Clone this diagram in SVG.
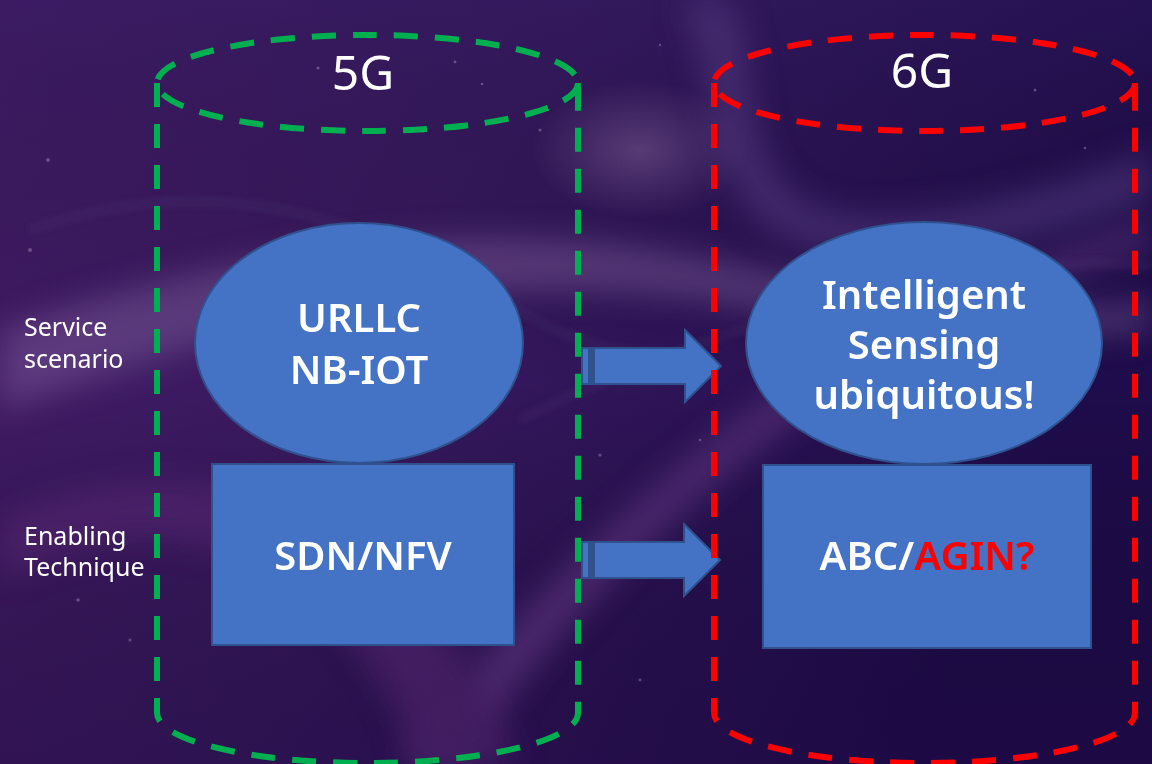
<svg xmlns="http://www.w3.org/2000/svg" width="1152" height="764" viewBox="0 0 1152 764">
  <defs>
    <linearGradient id="bg" x1="0" y1="0" x2="1" y2="0.3">
      <stop offset="0" stop-color="#451c68"/>
      <stop offset="0.45" stop-color="#38195f"/>
      <stop offset="1" stop-color="#1f0c4c"/>
    </linearGradient>
    <linearGradient id="shade" x1="0" y1="0" x2="0" y2="1">
      <stop offset="0" stop-color="#2a1a5a" stop-opacity="0.35"/>
      <stop offset="0.5" stop-color="#000000" stop-opacity="0"/>
      <stop offset="1" stop-color="#1a0638" stop-opacity="0.35"/>
    </linearGradient>
    <radialGradient id="glow" cx="0.5" cy="0.5" r="0.5">
      <stop offset="0" stop-color="#8a6a9e" stop-opacity="0.45"/>
      <stop offset="1" stop-color="#8a6a9e" stop-opacity="0"/>
    </radialGradient>
    <filter id="soft" x="-20%" y="-50%" width="140%" height="200%">
      <feGaussianBlur stdDeviation="16"/>
    </filter>
    <filter id="softer" x="-20%" y="-50%" width="140%" height="200%">
      <feGaussianBlur stdDeviation="4"/>
    </filter>
    <style>
      .lbl { font-family: "Noto Sans", "Open Sans", "Liberation Sans", sans-serif; fill: #ffffff; }
      .side { font-size: 25px; font-weight: 400; }
      .head { font-size: 48px; font-weight: 400; }
      .main { font-size: 40px; font-weight: 600; text-anchor: middle; }
      .shape { fill: #4472c4; stroke: #2f528f; stroke-width: 2; }
      .cyl { fill: none; stroke-width: 6; stroke-dasharray: 24 17; }
      .green { stroke: #00b050; }
      .red { stroke: #ff0000; }
      .arrow { fill: #4472c4; stroke: #2f528f; stroke-width: 2; }
    </style>
  </defs>

  <!-- background -->
  <rect width="1152" height="764" fill="url(#bg)"/>
  <rect width="1152" height="764" fill="url(#shade)"/>
  <g opacity="0.5">
    <path d="M0,330 C180,270 360,230 560,240 C760,250 900,330 1152,300 L1152,330 C900,360 760,290 560,290 C360,290 180,350 0,410 Z" fill="#7a5a98" filter="url(#soft)"/>
    <path d="M400,760 C520,600 700,420 900,320 C1000,270 1080,240 1152,220 L1152,250 C1080,270 1000,300 910,350 C720,450 560,620 460,764 Z" fill="#6e3f8c" filter="url(#soft)"/>
    <path d="M680,0 C720,80 700,160 760,220 C820,280 1000,260 1152,200 L1152,150 C1000,210 840,240 790,190 C740,140 760,60 730,0 Z" fill="#5a3f86" filter="url(#soft)"/>
    <path d="M0,520 C120,470 220,470 320,520 C420,570 460,640 520,764 L420,764 C380,660 320,580 220,550 C140,525 80,540 0,580 Z" fill="#5c2a74" filter="url(#soft)"/>
  </g>
  <ellipse cx="640" cy="150" rx="110" ry="70" fill="url(#glow)"/>
  <path d="M30,230 C200,170 360,210 500,300 C580,350 640,360 700,350" fill="none" stroke="#8fa0c8" stroke-opacity="0.18" stroke-width="3" filter="url(#softer)"/>
  <path d="M520,420 C640,360 800,300 1000,270 C1060,262 1110,262 1152,266" fill="none" stroke="#b08ab8" stroke-opacity="0.2" stroke-width="3" filter="url(#softer)"/>

  <!-- faint specks -->
  <g fill="#c9b8e0" opacity="0.35">
    <circle cx="318" cy="68" r="1.6"/>
    <circle cx="455" cy="62" r="1.4"/>
    <circle cx="482" cy="84" r="1.3"/>
    <circle cx="540" cy="130" r="1.5"/>
    <circle cx="660" cy="45" r="1.2"/>
    <circle cx="1035" cy="90" r="1.5"/>
    <circle cx="1085" cy="148" r="1.3"/>
    <circle cx="48" cy="160" r="2"/>
    <circle cx="30" cy="250" r="2"/>
    <circle cx="600" cy="455" r="1.6"/>
    <circle cx="700" cy="440" r="1.3"/>
    <circle cx="78" cy="600" r="1.8"/>
    <circle cx="130" cy="640" r="1.5"/>
    <circle cx="640" cy="680" r="1.4"/>
  </g>

  <!-- connectors: striped block arrows from 5G to 6G -->
  <g id="connectors">
    <g id="arrow-service">
      <rect class="arrow" x="582" y="348" width="7" height="36"/>
      <rect class="arrow" x="590.5" y="348" width="2" height="36"/>
      <path class="arrow" d="M594,348 H685 V330 L721,366 L685,402 V384 H594 Z"/>
    </g>
    <g id="arrow-technique">
      <rect class="arrow" x="582" y="542" width="7" height="36"/>
      <rect class="arrow" x="590.5" y="542" width="2" height="36"/>
      <path class="arrow" d="M594,542 H684 V524 L720,560 L684,596 V578 H594 Z"/>
    </g>
  </g>

  <!-- generation cylinders -->
  <g id="cylinder-5g">
    <path class="cyl green" d="M157,83 V713 A210.5,50 0 0 0 578,713 V83"/>
    <ellipse class="cyl green" cx="367.5" cy="83" rx="210.5" ry="48"/>
    <text class="lbl head" x="363" y="90" text-anchor="middle">5G</text>
  </g>
  <g id="cylinder-6g">
    <path class="cyl red" d="M714,83 V713 A210.5,50 0 0 0 1135,713 V83"/>
    <ellipse class="cyl red" cx="924.5" cy="83" rx="210.5" ry="48"/>
    <text class="lbl head" x="922" y="88" text-anchor="middle">6G</text>
  </g>

  <!-- row labels -->
  <g id="row-service">
    <text class="lbl side" x="24" y="336">Service</text>
    <text class="lbl side" x="24" y="368">scenario</text>
  </g>
  <g id="row-technique">
    <text class="lbl side" x="24" y="545">Enabling</text>
    <text class="lbl side" x="24" y="576">Technique</text>
  </g>

  <!-- 5G nodes -->
  <g id="node-5g-service">
    <ellipse class="shape" cx="359" cy="343" rx="164" ry="120"/>
    <text class="lbl main" x="359" y="332">URLLC</text>
    <text class="lbl main" x="359" y="384">NB-IOT</text>
  </g>
  <g id="node-5g-technique">
    <rect class="shape" x="212" y="464" width="302" height="181"/>
    <text class="lbl main" x="363" y="570">SDN/NFV</text>
  </g>

  <!-- 6G nodes -->
  <g id="node-6g-service">
    <ellipse class="shape" cx="924" cy="343" rx="178" ry="121"/>
    <text class="lbl main" x="924" y="309">Intelligent</text>
    <text class="lbl main" x="924" y="359">Sensing</text>
    <text class="lbl main" x="924" y="409">ubiquitous!</text>
  </g>
  <g id="node-6g-technique">
    <rect class="shape" x="763" y="465" width="328" height="183"/>
    <text class="lbl main" x="927" y="570">ABC/<tspan fill="#ff0000">AGIN?</tspan></text>
  </g>
</svg>
